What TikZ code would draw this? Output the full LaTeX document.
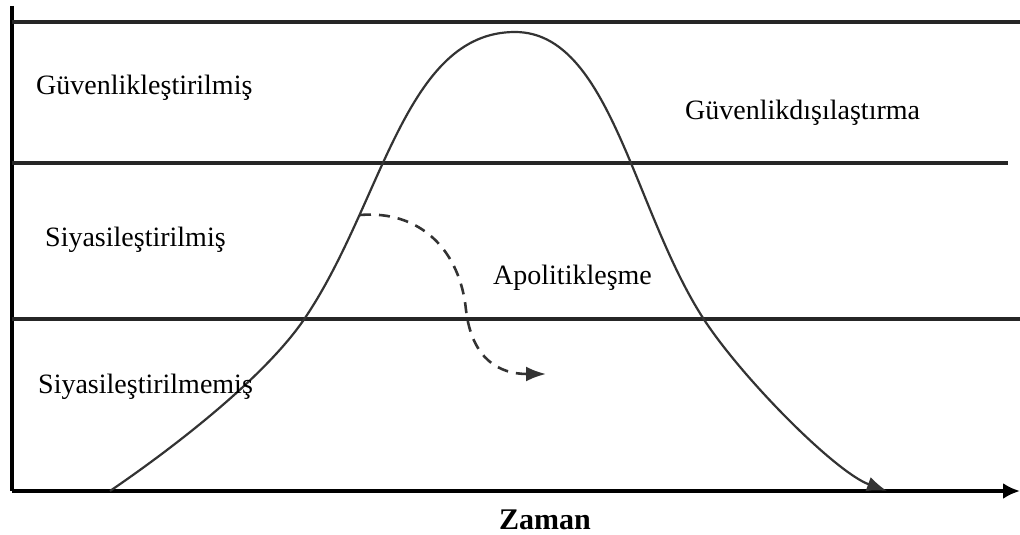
\documentclass[tikz,border=0pt]{standalone}
\usepackage{fontspec}
\setmainfont{Liberation Serif}
\usepackage{tikz}
\usetikzlibrary{positioning, arrows.meta, calc}

\begin{document}
\begin{tikzpicture}[
    x=1pt, y=-1pt,
    axis line/.style={black, line width=3.4pt},
    band line/.style={black!85, line width=3.4pt},
    bell/.style={black!80, line width=2.2pt},
    path arrow/.style={black!80, line width=2.6pt, dash pattern=on 11pt off 8pt},
    zone label/.style={font=\fontsize{28}{30}\selectfont, anchor=west, inner sep=0pt}
]

\useasboundingbox (0,0) rectangle (1020,535);

% --- 1. Axes ---
\coordinate (origin) at (12,491);
\coordinate (yTop) at (12,6);
\coordinate (xEnd) at (1020,491);

\draw[axis line] (yTop) -- (origin);
\draw[axis line, -{Latex[length=17pt, width=16pt]}] (origin) -- (xEnd);

% --- 2. Bands ---
\coordinate (topL) at (12,22);
\coordinate (topR) at (1020,22);
\coordinate (midL) at (12,163);
\coordinate (midR) at (1008,163);
\coordinate (lowL) at (12,319);
\coordinate (lowR) at (1020,319);

\draw[band line] (topL) -- (topR);
\draw[band line] (midL) -- (midR);
\draw[band line] (lowL) -- (lowR);

% --- 3. Bell curve ---
\coordinate (bStart) at (110,491);
\coordinate (bLeft) at (305,318);
\coordinate (bPeak) at (515,32);
\coordinate (bRight) at (703,318);
\coordinate (bEnd) at (887,491);

\draw[bell, -{Latex[length=20pt, width=15pt]}]
    (bStart) .. controls (176,446) and (266,376) .. (bLeft)
             .. controls (383,202) and (405,32) .. (bPeak)
             .. controls (610,32) and (633,209) .. (bRight)
             .. controls (741,377) and (835,472) .. (bEnd);

% --- 4. Dashed path ---
\coordinate (dStart) at (360,215);
\coordinate (dMid) at (466,310);
\coordinate (dEnd) at (546,374);

\draw[path arrow, -{Latex[length=20pt, width=15pt]}]
    (dStart) .. controls (420,210) and (460,250) .. (dMid)
             .. controls (472,360) and (500,374) .. (dEnd);

% --- 5. Labels ---
\node[zone label] (secured) at (36,88) {Güvenlikleştirilmiş};
\node[zone label] (desecur) at (685,113) {Güvenlikdışılaştırma};
\node[zone label] (polit) at (45,240) {Siyasileştirilmiş};
\node[zone label] (apolit) at (493,278) {Apolitikleşme};
\node[zone label] (nonpolit) at (38,387) {Siyasileştirilmemiş};
\node[font=\fontsize{30}{32}\selectfont\bfseries, inner sep=0pt] (time) at (545,520) {Zaman};

\end{tikzpicture}
\end{document}
